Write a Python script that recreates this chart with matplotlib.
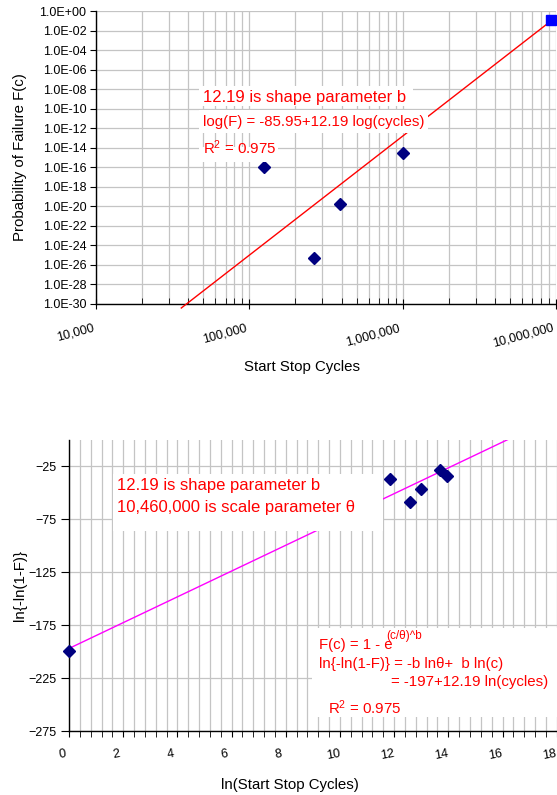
import matplotlib
matplotlib.use('Agg')
import matplotlib.pyplot as plt
import numpy as np
from matplotlib.patches import Rectangle
from matplotlib.ticker import LogLocator, MultipleLocator, NullLocator, NullFormatter
from matplotlib.transforms import ScaledTranslation, blended_transform_factory

plt.rcParams['font.family'] = ['Liberation Sans', 'DejaVu Sans']
plt.rcParams['mathtext.default'] = 'regular'

W, H = 557, 795
RED = '#FF0000'
GRID = '#c4c4c4'

# top chart: probability of failure vs start/stop cycles (log-log)
cycles = [124000, 263000, 389000, 1005000]
prob_fail = [1.15e-16, 5.6e-26, 1.9e-20, 3.2e-15]
end_cycles = [9.31e6]
end_prob = [0.12]
fit_cycles = np.array([3.6e4, 9.31e6])
fit_a, fit_b = -85.95, 12.19
top_xticks = [1e4, 1e5, 1e6, 1e7]
top_xlabels = ['10,000', '100,000', '1,000,000', '10,000,000']
top_yticks = [10.0 ** -k for k in range(0, 31, 2)]
top_ylabels = ['1.0E+00'] + ['1.0E-%02d' % k for k in range(2, 31, 2)]

# bottom chart: linearised weibull
ln_cycles = [0.0, 11.85, 12.59, 12.98, 13.70, 13.94]
ln_ln = [-199.5, -37.3, -58.7, -46.0, -28.1, -34.1]
wb_x = np.array([0.0, 16.3])
wb_a, wb_b = -197, 12.19
bot_xticks = list(range(0, 19, 2))
bot_yticks = [-275, -225, -175, -125, -75, -25]


def fx(x):
    return x / W


def fy(y):
    return 1 - y / H


def white_box(x0, y0, x1, y1):
    fig.add_artist(Rectangle((fx(x0), fy(y1)), (x1 - x0) / W, (y1 - y0) / H,
                             transform=fig.transFigure, facecolor='white',
                             edgecolor='none', zorder=5))


def red_text(x, y, s, size):
    fig.text(fx(x), fy(y), s, color=RED, fontsize=size, va='baseline',
             ha='left', zorder=6)


def style_axes(ax):
    ax.set_axisbelow(True)
    for side in ['top', 'right']:
        ax.spines[side].set_visible(False)
    for side in ['left', 'bottom']:
        ax.spines[side].set_color('black')
        ax.spines[side].set_linewidth(1.0)


fig = plt.figure(figsize=(W / 100, H / 100), dpi=100)

# ---------- top chart ----------
ax1 = fig.add_axes([fx(96), fy(304), 460 / W, 293 / H])
style_axes(ax1)
ax1.set_xscale('log')
ax1.set_yscale('log')
ax1.set_xlim(1e4, 1e7)
ax1.set_ylim(1e-30, 1e0)

ax1.plot(fit_cycles, 10 ** (fit_a + fit_b * np.log10(fit_cycles)), color=RED,
         lw=1.0, clip_on=False, zorder=3)
ax1.plot(cycles, prob_fail, 'D', color='#000080', ms=6, zorder=4)
ax1.plot(end_cycles, end_prob, 's', color='#0000FF', ms=7, clip_on=False, zorder=4)

ax1.set_yticks(top_yticks, top_ylabels)
ax1.yaxis.set_minor_locator(NullLocator())
ax1.set_xticks(top_xticks, [''] * len(top_xticks))
ax1.xaxis.set_minor_locator(LogLocator(base=10, subs=np.arange(2, 10)))
ax1.xaxis.set_minor_formatter(NullFormatter())
ax1.grid(True, which='both', axis='x', color=GRID, lw=0.9)
ax1.grid(True, which='major', axis='y', color=GRID, lw=0.9)
ax1.tick_params(axis='y', direction='out', length=4, labelsize=9, pad=3)
ax1.tick_params(axis='x', which='major', direction='inout', length=7)
ax1.tick_params(axis='x', which='minor', direction='in', length=4)

off = ScaledTranslation(-0.04, -0.18, fig.dpi_scale_trans)
tr = blended_transform_factory(ax1.transData, ax1.transAxes) + off
for c, lab in zip(top_xticks, top_xlabels):
    ax1.text(c, 0, lab, transform=tr, rotation=15, ha='right', va='top',
             rotation_mode='anchor', fontsize=9, clip_on=False)

ax1.set_xlabel('Start Stop Cycles', fontsize=10.8)
ax1.xaxis.set_label_coords(0.448, -0.19)
ax1.set_ylabel('Probability of Failure F(c)', fontsize=10.8)
ax1.yaxis.set_label_coords(-0.15, 0.5)

# ---------- bottom chart ----------
ax2 = fig.add_axes([fx(69), fy(731), 487.7 / W, 291 / H])
style_axes(ax2)
ax2.set_xlim(0, 18)
ax2.set_ylim(-275, 0)

ax2.plot(wb_x, wb_a + wb_b * wb_x, color='#FF00FF', lw=1.0, zorder=3)
ax2.plot(ln_cycles, ln_ln, 'D', color='#000080', ms=6, clip_on=False, zorder=4)

ax2.set_yticks(bot_yticks)
ax2.set_xticks(bot_xticks, [''] * len(bot_xticks))
ax2.xaxis.set_minor_locator(MultipleLocator(0.4))
ax2.grid(True, which='both', axis='x', color=GRID, lw=0.9)
ax2.grid(True, which='major', axis='y', color=GRID, lw=0.9)
ax2.tick_params(axis='y', direction='out', length=6, labelsize=9, pad=3)
ax2.tick_params(axis='x', which='both', direction='out', length=4)

off2 = ScaledTranslation(-0.08, -0.18, fig.dpi_scale_trans)
tr2 = blended_transform_factory(ax2.transData, ax2.transAxes) + off2
for v in bot_xticks:
    ax2.text(v, 0, str(v), transform=tr2, rotation=10, ha='center', va='top',
             rotation_mode='anchor', fontsize=9, clip_on=False)

ax2.set_xlabel('ln(Start Stop Cycles)', fontsize=10.8)
ax2.xaxis.set_label_coords(0.452, -0.16)
ax2.set_ylabel('ln{-ln(1-F)}', fontsize=10.8)
ax2.yaxis.set_label_coords(-0.086, 0.5)

# ---------- annotation boxes ----------
white_box(199, 86, 413, 106)
white_box(199, 110, 428, 133)
white_box(199, 147, 278, 162)
red_text(203, 102, '12.19 is shape parameter b', 12)
red_text(203, 126, 'log(F) = -85.95+12.19 log(cycles)', 10.8)
red_text(203, 154, 'R$^2$ = 0.975', 10.8)

white_box(113, 474, 383, 531)
red_text(117, 490, '12.19 is shape parameter b', 12)
red_text(117, 512, '10,460,000 is scale parameter θ', 12)

white_box(312, 628, 557, 717)
red_text(319, 649, 'F(c) = 1 - e', 10.8)
red_text(386, 639, '(c/θ)^b', 8.5)
red_text(319, 668, 'ln{-ln(1-F)} = -b lnθ+  b ln(c)', 10.8)
red_text(391, 686, '= -197+12.19 ln(cycles)', 10.8)
red_text(328, 714, 'R$^2$ = 0.975', 10.8)

fig.savefig('out.png', dpi=100)
